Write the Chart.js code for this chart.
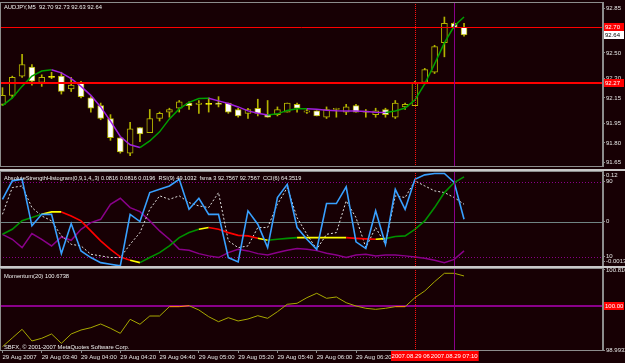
<!DOCTYPE html>
<html>
<head>
<meta charset="utf-8">
<script src="https://cdn.jsdelivr.net/npm/chart.js@4.4.1/dist/chart.umd.min.js"></script>
<style>
html, body { margin: 0; padding: 0; background: #170004; }
#wrap { position: relative; width: 625px; height: 363px; overflow: hidden; background: #170004; }
.pane { position: absolute; left: 0; }
</style>
</head>
<body>
<div id="wrap">
  <canvas id="main" class="pane" width="625" height="168" style="top:0"></canvas>
  <canvas id="ind" class="pane" width="625" height="99" style="top:168px"></canvas>
  <canvas id="mom" class="pane" width="625" height="97" style="top:266px"></canvas>
</div>
<script>
// AUDJPY M5, 29 Aug 2007
const times = ['03:20','03:25','03:30','03:35','03:40','03:45','03:50','03:55',
  '04:00','04:05','04:10','04:15','04:20','04:25','04:30','04:35',
  '04:40','04:45','04:50','04:55','05:00','05:05','05:10','05:15',
  '05:20','05:25','05:30','05:35','05:40','05:45','05:50','05:55',
  '06:00','06:05','06:10','06:15','06:20','06:25','06:30','06:35',
  '06:40','06:45','06:50','06:55','07:00','07:05','07:10','07:15'];

const opens  = [92.10,92.17,92.32,92.39,92.27,92.31,92.32,92.22,92.27,92.15,92.09,91.99,91.84,91.72,91.92,91.88,
                91.99,92.04,92.07,92.11,92.10,92.10,92.11,92.11,92.06,92.03,92.07,92.02,92.02,92.04,92.10,92.04,
                92.05,92.00,92.06,92.04,92.09,92.04,92.02,92.06,92.00,92.08,92.09,92.27,92.35,92.58,92.73,92.70];
const highs  = [92.23,92.32,92.49,92.41,92.33,92.35,92.35,92.31,92.28,92.16,92.11,92.02,91.84,91.96,91.92,92.06,
                92.04,92.07,92.13,92.12,92.13,92.15,92.16,92.11,92.07,92.07,92.14,92.13,92.08,92.11,92.11,92.07,
                92.05,92.08,92.07,92.10,92.10,92.06,92.07,92.07,92.13,92.11,92.28,92.38,92.56,92.78,92.74,92.73];
const lows   = [92.09,92.15,92.31,92.25,92.24,92.30,92.18,92.20,92.15,92.04,91.98,91.82,91.72,91.70,91.81,91.88,
                91.97,92.00,92.04,92.06,92.03,92.04,92.08,92.03,92.00,91.99,92.01,92.00,92.01,92.04,92.04,92.03,
                92.01,91.99,92.00,92.02,92.04,92.00,92.00,92.00,91.99,92.06,92.09,92.26,92.34,92.47,92.69,92.63];
const closes = [92.17,92.31,92.41,92.28,92.31,92.31,92.20,92.25,92.16,92.07,91.99,91.84,91.73,91.91,91.87,91.99,
                92.03,92.06,92.12,92.09,92.11,92.10,92.10,92.04,92.01,92.06,92.03,92.00,92.06,92.11,92.07,92.05,
                92.01,92.06,92.07,92.08,92.04,92.04,92.05,92.02,92.11,92.10,92.27,92.37,92.55,92.73,92.70,92.64];
const trendMa = [92.09,92.15,92.24,92.32,92.36,92.37,92.345,92.30,92.24,92.17,92.08,91.97,91.85,91.785,91.764,91.815,
                 91.886,91.987,92.065,92.115,92.146,92.148,92.127,92.107,92.08,92.049,92.03,92.018,92.026,92.053,92.065,92.066,
                 92.061,92.055,92.051,92.049,92.048,92.044,92.039,92.037,92.049,92.072,92.134,92.259,92.415,92.578,92.71,92.78];

// separate window 1
const rsi  = [71.1,90.8,92.5,42.8,55.1,55.1,13.2,45.2,16.1,9.0,3.6,1.8,0.1,55.1,47.4,78.3,
              81.8,85.4,92.5,60.5,72.2,55.1,55.1,9.0,4.4,58.8,44.5,19.6,73.0,87.1,41.0,28.5,
              17.8,66.6,66.6,84.4,25.7,18.6,58.8,23.1,81.8,60.5,92.5,97.2,98.6,98.6,89.0,49.8];
const fsma = [55.1,83.6,85.4,62.3,53.4,48.1,32.1,23.1,21.4,12.5,10.8,9.0,9.0,23.1,35.6,60.5,
              74.8,71.1,74.8,67.6,64.1,62.3,78.3,26.8,19.6,21.4,41.0,41.0,65.8,83.6,51.6,33.8,
              17.8,33.8,35.6,69.4,51.6,19.6,41.0,23.1,74.8,73.0,90.8,85.4,80.1,78.3,73.0,65.8];
const cci  = [33.8,28.5,19.6,34.6,28.5,21.4,31.0,27.4,39.1,46.3,49.8,65.8,72.2,62.3,58.0,48.1,
              37.4,28.5,17.8,16.7,13.2,10.8,9.0,14.3,17.8,16.1,13.2,11.8,14.3,16.7,18.6,17.8,
              16.4,13.5,11.8,9.0,11.8,12.5,10.8,11.8,11.8,10.8,9.7,8.2,6.1,3.6,7.1,16.1];
const ash  = [33.8,39.1,48.4,51.6,55.1,57.7,57.7,53.4,48.1,37.4,26.8,17.8,9.7,6.1,3.6,9.0,
              14.3,21.4,30.3,35.6,39.1,41.0,39.1,35.6,32.7,32.1,29.5,27.4,28.5,29.5,30.3,30.3,
              30.3,30.3,30.3,30.3,29.5,28.9,28.5,29.2,31.4,32.1,39.1,48.1,62.3,78.3,89.0,95.0];
const ashTrend = ['up','up','up','up','up','flat','flat','down','down','down','down','down','down','down','flat','up',
                  'up','up','up','up','up','flat','down','down','down','down','down','flat','up','up','up','flat',
                  'flat','flat','flat','flat','down','down','down','flat','up','up','up','up','up','up','up','up'];

// separate window 2
const momentum = [99.068,99.266,99.463,99.198,99.259,99.357,99.145,99.357,99.447,99.500,99.584,99.486,99.372,99.690,99.577,99.765,
                  99.765,99.977,99.977,99.999,99.902,99.749,99.636,99.727,99.652,99.697,99.772,99.713,99.863,100.031,100.054,100.181,
                  100.281,100.167,100.197,100.067,99.992,99.940,99.917,99.940,99.977,99.977,100.181,100.333,100.544,100.735,100.735,100.674];

const priceTicks = [92.85, 92.50, 92.30, 92.15, 91.95, 91.80, 91.65];
const oscTickValues = [96.4, 90, 47.4, 10, 4.7];
const oscTickText = ['0.12', '90', '0', '10', '-0.0013'];
const momTickValues = [100.81, 98.9932];
const momTickText = ['100.810', '98.9932'];
const priceLines = [92.70, 92.27];
const lastPrice = 92.64;
const eventBars = [42, 46];
const eventText = ['2007.08.29 06:50', '2007.08.29 07:10'];

const BG = '#170004';
const OLIVE = '#b4b400';
const GRAYLINE = '#8c8c8c';
const FONT = 'Liberation Sans';
Chart.defaults.font.family = FONT;
Chart.defaults.font.size = 6;
Chart.defaults.color = '#e6e6e6';
Chart.defaults.animation = false;
Chart.defaults.plugins.legend.display = false;
Chart.defaults.plugins.tooltip.enabled = false;

const xRange = { min: -0.25, max: 61.15, offset: false };
const pts = arr => arr.map((v, i) => ({ x: i, y: v }));

function yAxis(min, max, tickVals, fmt) {
  return {
    position: 'right', min, max,
    afterFit(s) { s.width = 22; s.paddingTop = 0; s.paddingBottom = 0; },
    afterBuildTicks(s) { s.ticks = tickVals.map(v => ({ value: v })); },
    ticks: { callback: fmt, padding: 1, color: '#e6e6e6', font: { size: 6 } },
    grid: { drawOnChartArea: false, drawTicks: true, tickLength: 2, color: GRAYLINE },
    border: { display: true, color: GRAYLINE }
  };
}

// lines, labels and frames of one window
const decor = {
  id: 'decor',
  beforeDatasetsDraw(chart, args, o) {
    const { ctx, chartArea: a, scales: { y } } = chart;
    ctx.save();
    (o.levels || []).forEach(l => {
      const py = Math.round(y.getPixelForValue(l.value)) + (l.width % 2 ? 0.5 : 0);
      ctx.strokeStyle = l.color; ctx.lineWidth = l.width; ctx.setLineDash(l.dash || []);
      ctx.beginPath(); ctx.moveTo(a.left, py); ctx.lineTo(a.right, py); ctx.stroke();
    });
    ctx.restore();
  },
  afterDatasetsDraw(chart, args, o) {
    const { ctx, chartArea: a, scales: { x, y } } = chart;
    ctx.save();
    (o.hlines || []).forEach(l => {
      const py = Math.round(y.getPixelForValue(l.value)) + (l.width % 2 ? 0.5 : 0);
      ctx.strokeStyle = l.color; ctx.lineWidth = l.width; ctx.setLineDash([]);
      ctx.beginPath(); ctx.moveTo(a.left, py); ctx.lineTo(a.right, py); ctx.stroke();
    });
    eventBars.forEach((b, k) => {
      const px = Math.round(x.getPixelForValue(b)) + 0.5;
      ctx.strokeStyle = k === 0 ? '#ff1010' : '#8a008a';
      ctx.setLineDash(k === 0 ? [1, 1] : []);
      ctx.lineWidth = 1;
      ctx.beginPath(); ctx.moveTo(px, a.top); ctx.lineTo(px, a.bottom); ctx.stroke();
    });
    ctx.setLineDash([]);
    // frame
    ctx.strokeStyle = GRAYLINE; ctx.lineWidth = 1;
    ctx.strokeRect(a.left + 0.5, a.top + 0.5, a.right - a.left - 1, a.bottom - a.top);
    if (o.sepTop) {
      ctx.strokeStyle = '#c8c8c8'; ctx.lineWidth = 2;
      ctx.beginPath(); ctx.moveTo(0, a.top - 1); ctx.lineTo(chart.width, a.top - 1); ctx.stroke();
    }
    ctx.fillStyle = '#f0f0f0'; ctx.textBaseline = 'middle'; ctx.textAlign = 'left';
    (o.texts || []).forEach(t => {
      ctx.font = (t.size || 5.8) + 'px "' + FONT + '"';
      ctx.fillText(t.text, t.x, t.y);
    });
    ctx.restore();
  },
  afterDraw(chart, args, o) {
    const { ctx, scales: { x, y } } = chart;
    ctx.save();
    ctx.font = '6px "' + FONT + '"'; ctx.textBaseline = 'middle'; ctx.textAlign = 'left';
    (o.badges || []).forEach(b => {
      const py = Math.round(y.getPixelForValue(b.value));
      ctx.fillStyle = b.bg; ctx.fillRect(604, py - 4, 20, 8);
      ctx.fillStyle = b.fg; ctx.fillText(b.text, 605, py);
    });
    if (o.timeBadges) {
      ctx.textAlign = 'center';
      eventBars.forEach((b, k) => {
        const px = x.getPixelForValue(b);
        const w = ctx.measureText(eventText[k]).width + 2;
        ctx.fillStyle = '#ff0000'; ctx.fillRect(Math.round(px - w / 2), chart.chartArea.bottom + 1, w, 10);
        ctx.fillStyle = '#ffffff'; ctx.fillText(eventText[k], px, chart.chartArea.bottom + 6);
      });
    }
    ctx.restore();
  }
};

// price window
const bull = opens.map((o, i) => closes[i] > o);
new Chart(document.getElementById('main'), {
  type: 'bar',
  plugins: [decor],
  data: {
    datasets: [{
      type: 'line', data: pts(trendMa), borderWidth: 1.5, pointRadius: 0, order: 0,
      borderColor: '#00a000',
      segment: { borderColor: c => c.p1.parsed.y < c.p0.parsed.y ? '#a020e0' : '#00a000' }
    }, {
      data: lows.map((l, i) => ({ x: i, y: [l, highs[i]] })),
      barThickness: 1, backgroundColor: OLIVE, grouped: false, order: 2
    }, {
      data: opens.map((o, i) => ({ x: i, y: [o, closes[i]] })),
      barThickness: 6, grouped: false, order: 1, minBarLength: 1,
      borderWidth: 1, borderSkipped: false,
      backgroundColor: opens.map((o, i) => closes[i] === o ? '#ffff00' : (bull[i] ? BG : '#ffffff')),
      borderColor: opens.map((o, i) => closes[i] === o ? '#ffff00' : OLIVE)
    }]
  },
  options: {
    responsive: false,
    layout: { padding: { top: 2, bottom: 2, left: 0, right: 0 } },
    scales: {
      x: { type: 'linear', ...xRange, display: false },
      y: yAxis(91.62, 92.897, priceTicks, v => v.toFixed(2))
    },
    plugins: {
      decor: {
        hlines: [{ value: priceLines[0], color: '#ff0000', width: 1 }, { value: priceLines[1], color: '#ff0000', width: 2 }],
        texts: [{ text: 'AUDJPY,M5  92.70 92.73 92.63 92.64', x: 4, y: 7 }],
        badges: [
          { value: priceLines[0], text: priceLines[0].toFixed(2), bg: '#ff0000', fg: '#ffffff' },
          { value: lastPrice, text: lastPrice.toFixed(2), bg: '#ffffff', fg: '#000000' },
          { value: priceLines[1], text: priceLines[1].toFixed(2), bg: '#ff0000', fg: '#ffffff' }
        ]
      }
    }
  }
});

// oscillators window
const trendColor = { up: '#009000', down: '#ff0000', flat: '#ffff00' };
new Chart(document.getElementById('ind'), {
  type: 'line',
  plugins: [decor],
  data: {
    datasets: [
      { data: pts(rsi), borderColor: '#38a0ff', borderWidth: 1.6, pointRadius: 0, order: 0 },
      { data: pts(ash), borderColor: '#009000', borderWidth: 1.6, pointRadius: 0, order: 1,
        segment: { borderColor: c => trendColor[ashTrend[c.p1DataIndex]] } },
      { data: pts(fsma), borderColor: '#e0e0e0', borderWidth: 1, borderDash: [2, 2], pointRadius: 0, order: 2 },
      { data: pts(cci), borderColor: '#8a008a', borderWidth: 1.5, pointRadius: 0, order: 3 }
    ]
  },
  options: {
    responsive: false,
    layout: { padding: { top: 3, bottom: 1, left: 0, right: 0 } },
    scales: {
      x: { type: 'linear', ...xRange, display: false },
      y: yAxis(0, 101.3, oscTickValues, v => oscTickText[oscTickValues.indexOf(v)])
    },
    plugins: {
      decor: {
        sepTop: true,
        levels: [
          { value: 90, color: '#8a008a', width: 1, dash: [1, 2] },
          { value: 10, color: '#8a008a', width: 1, dash: [1, 2] },
          { value: 47.4, color: '#708484', width: 1 }
        ],
        texts: [{ text: 'AbsoluteStrengthHistogram(0,9,1,4,,3) 0.0816 0.0816 0.0196  RSI(9) 49.1032  fsma 3 92.7567 92.7567  CCI(6) 64.3519', x: 4, y: 10, size: 5.6 }]
      }
    }
  }
});

// momentum window
const nearHundred = v => Math.abs(v - 100) < 0.035;
new Chart(document.getElementById('mom'), {
  type: 'line',
  plugins: [decor],
  data: {
    datasets: [{
      data: pts(momentum), borderColor: '#a8a800', borderWidth: 1, pointRadius: 0,
      segment: { borderColor: c => nearHundred(c.p0.parsed.y) && nearHundred(c.p1.parsed.y) ? '#ff9900' : '#a8a800' }
    }]
  },
  options: {
    responsive: false,
    layout: { padding: { top: 2, bottom: 0, left: 0, right: 0 } },
    scales: {
      x: {
        type: 'linear', ...xRange,
        afterFit(s) { s.height = 13; s.paddingLeft = 0; s.paddingRight = 0; },
        afterBuildTicks(s) { s.ticks = times.map((t, i) => i).filter(i => i % 4 === 0).map(i => ({ value: i })); },
        ticks: {
          autoSkip: false, maxRotation: 0, align: 'start', padding: 1, color: '#e6e6e6', font: { size: 6 },
          callback: v => v === 0 ? '29 Aug 2007' : '29 Aug ' + times[v]
        },
        grid: { drawOnChartArea: false, drawTicks: true, tickLength: 3, color: GRAYLINE },
        border: { display: true, color: GRAYLINE }
      },
      y: yAxis(98.9932, 100.855, momTickValues, v => momTickText[momTickValues.indexOf(v)])
    },
    plugins: {
      decor: {
        sepTop: true,
        levels: [{ value: 100, color: '#8a008a', width: 2 }],
        texts: [
          { text: 'Momentum(20) 100.6738', x: 4, y: 10 },
          { text: 'SBFX, \u00a9 2001-2007 MetaQuotes Software Corp.', x: 4, y: 81 }
        ],
        badges: [{ value: 100, text: '100.00', bg: '#ff0000', fg: '#ffffff' }],
        timeBadges: true
      }
    }
  }
});
</script>
</body>
</html>
